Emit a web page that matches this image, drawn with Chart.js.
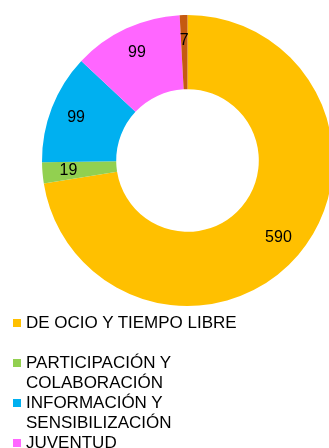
<!DOCTYPE html>
<html>
<head>
<meta charset="utf-8">
<script src="https://cdn.jsdelivr.net/npm/chart.js@4/dist/chart.umd.min.js"></script>
<style>
  html, body { margin: 0; padding: 0; width: 329px; height: 448px; overflow: hidden; background: #fff; }
  #wrap { position: absolute; left: 0; top: 0; width: 375px; height: 321px; }
  #legend { position: absolute; left: 13px; top: 313px; font-family: "Liberation Sans", Arial, sans-serif; font-size: 17px; color: #000; }
  .item { position: relative; height: 40px; }
  .box { position: absolute; left: 0; top: 6px; width: 8px; height: 8px; }
  .txt { position: absolute; left: 13px; top: 0; width: 240px; line-height: 20px; white-space: normal; }
</style>
</head>
<body>
<div id="wrap"><canvas id="c" width="375" height="321"></canvas></div>
<div id="legend"></div>
<script>
// Categories and their counts
const categories = [
  "DE OCIO Y TIEMPO LIBRE",
  "PARTICIPACIÓN Y COLABORACIÓN",
  "INFORMACIÓN Y SENSIBILIZACIÓN",
  "JUVENTUD",
  "OTROS"
];
const counts = [590, 19, 99, 99, 7];
const sliceColors = ["#FFC000", "#92D050", "#00B0F0", "#FF66FF", "#C55A11"];

// Value labels drawn inside each ring segment
const valueLabels = {
  id: "valueLabels",
  afterDatasetsDraw(chart) {
    const ctx = chart.ctx;
    const meta = chart.getDatasetMeta(0);
    ctx.save();
    ctx.font = "16px 'Liberation Sans', Arial, sans-serif";
    ctx.fillStyle = "#000";
    ctx.textAlign = "center";
    ctx.textBaseline = "middle";
    meta.data.forEach((arc, i) => {
      const p = arc.getProps(["x", "y", "startAngle", "endAngle", "innerRadius", "outerRadius"], true);
      const mid = (p.startAngle + p.endAngle) / 2;
      const r = p.innerRadius + 0.65 * (p.outerRadius - p.innerRadius);
      ctx.fillText(String(chart.data.datasets[0].data[i]), p.x + Math.cos(mid) * r, p.y + Math.sin(mid) * r);
    });
    ctx.restore();
  }
};

new Chart(document.getElementById("c"), {
  type: "doughnut",
  data: {
    labels: categories,
    datasets: [{
      data: counts,
      backgroundColor: sliceColors,
      borderWidth: 0
    }]
  },
  options: {
    responsive: false,
    animation: false,
    cutout: "49%",
    layout: { padding: { top: 15, bottom: 15, left: 0, right: 0 } },
    plugins: {
      legend: { display: false },
      tooltip: { enabled: false }
    }
  },
  plugins: [valueLabels]
});

// Legend list below the ring
const legend = document.getElementById("legend");
categories.forEach((name, i) => {
  const item = document.createElement("div");
  item.className = "item";
  const box = document.createElement("div");
  box.className = "box";
  box.style.background = sliceColors[i];
  const txt = document.createElement("div");
  txt.className = "txt";
  txt.textContent = name;
  item.appendChild(box);
  item.appendChild(txt);
  legend.appendChild(item);
});
</script>
</body>
</html>
